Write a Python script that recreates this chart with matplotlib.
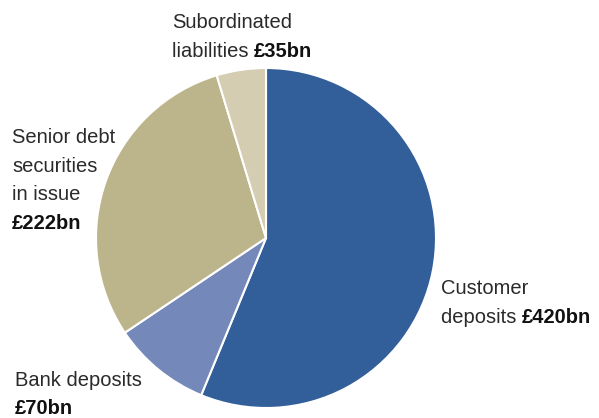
import matplotlib
matplotlib.use("Agg")
import matplotlib.pyplot as plt

labels = ["Customer deposits", "Bank deposits", "Senior debt securities in issue", "Subordinated liabilities"]
values = [420, 70, 222, 35]
colors = ["#325f9a", "#7489ba", "#bcb48a", "#d4cdb1"]

W, H = 599, 418
fig = plt.figure(figsize=(W / 100, H / 100), dpi=100)
ax = fig.add_axes([96 / W, 1 - 408 / H, 340 / W, 340 / H])
ax.pie(values, colors=colors, startangle=90, counterclock=False,
       wedgeprops=dict(edgecolor="white", linewidth=1.5))
ax.set_xlim(-1, 1)
ax.set_ylim(-1, 1)
ax.set_aspect("equal")

plt.rcParams["font.family"] = ["Liberation Sans", "DejaVu Sans"]
fs = 14.5


def label(x, y, normal, bold=None):
    # x, y in pixels from top-left, y is the baseline
    t = fig.text(x / W, 1 - y / H, normal, fontsize=fs, va="baseline", ha="left", color="#2a2a2a")
    if bold:
        if normal:
            ax.annotate(bold, xy=(1, 0), xycoords=t, xytext=(0, 0), textcoords="offset points",
                        fontsize=fs, fontweight="bold", va="bottom", ha="left",
                        annotation_clip=False, color="#111111")
        else:
            t.set_fontweight("bold")
            t.set_text(bold)
            t.set_color("#111111")


label(172, 28, "Subordinated")
label(172, 57, "liabilities ", "£35bn")
label(12, 143, "Senior debt")
label(12, 172, "securities")
label(12, 200, "in issue")
label(12, 229, "", "£222bn")
label(441, 294, "Customer")
label(441, 323, "deposits ", "£420bn")
label(15, 386, "Bank deposits")
label(15, 414, "", "£70bn")

fig.savefig("out.png", dpi=100)
